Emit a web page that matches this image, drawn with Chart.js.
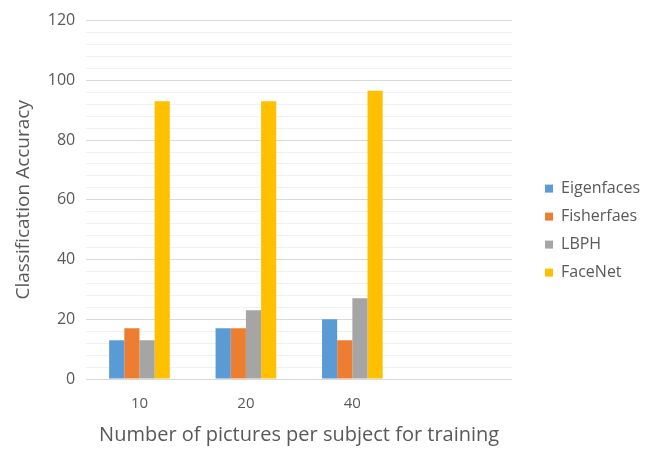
<!DOCTYPE html>
<html>
<head>
<meta charset="utf-8">
<script src="https://cdn.jsdelivr.net/npm/chart.js@4.4.0/dist/chart.umd.min.js"></script>
<style>
html,body{margin:0;padding:0;background:#fff;}
#wrap{width:647px;height:450px;}
</style>
</head>
<body>
<div id="wrap"><canvas id="c" width="647" height="450"></canvas></div>
<script>
const categories = ['10', '20', '40', ''];
const eigenfaces = [13, 17, 20, null];
const fisherfaes = [17, 17, 13, null];
const lbph = [13, 23, 27, null];
const facenet = [93, 93, 96.5, null];
const yTickLabels = [0, 20, 40, 60, 80, 100, 120];

const FONT = '"Open Sans", Lato, sans-serif';
const TXT = '#595959';

// shift the legend to the right inside the reserved right margin
const legendShift = {
  id: 'legendShift',
  afterLayout(chart) {
    const lg = chart.legend;
    if (lg) { lg.left += 21; lg.right += 21; }
  }
};

new Chart(document.getElementById('c'), {
  type: 'bar',
  data: {
    labels: categories,
    datasets: [
      { label: 'Eigenfaces', data: eigenfaces, backgroundColor: '#5B9BD5' },
      { label: 'Fisherfaes', data: fisherfaes, backgroundColor: '#ED7D31' },
      { label: 'LBPH', data: lbph, backgroundColor: '#A5A5A5' },
      { label: 'FaceNet', data: facenet, backgroundColor: '#FFC000' }
    ]
  },
  plugins: [legendShift],
  options: {
    responsive: false,
    animation: false,
    categoryPercentage: 0.57,
    barPercentage: 1.0,
    layout: { padding: { left: 8, top: 0, right: 18, bottom: 0 } },
    plugins: {
      tooltip: { enabled: false },
      legend: {
        position: 'right',
        title: { display: true, text: ' ', font: { size: 1 }, padding: 5 },
        labels: {
          boxWidth: 8, boxHeight: 8, padding: 12,
          color: TXT, font: { family: FONT, size: 16 }
        }
      }
    },
    scales: {
      x: {
        grid: { display: false },
        border: { display: false },
        ticks: { color: TXT, font: { family: FONT, size: 15 }, padding: 8 },
        title: { display: true, text: 'Number of pictures per subject for training', color: TXT, font: { family: FONT, size: 20 }, padding: { top: 2, bottom: 3 } }
      },
      y: {
        min: 0, max: 120,
        border: { display: false },
        grid: {
          drawTicks: false,
          color: (ctx) => (ctx.tick && yTickLabels.includes(ctx.tick.value)) ? '#d9d9d9' : '#f1f1f1'
        },
        ticks: {
          stepSize: 4,
          autoSkip: false,
          padding: 11,
          color: TXT, font: { family: FONT, size: 16 },
          callback: (v) => yTickLabels.includes(v) ? String(v) : ''
        },
        title: { display: true, text: 'Classification Accuracy', color: TXT, font: { family: FONT, size: 19 }, padding: { bottom: 2 } }
      }
    }
  }
});
</script>
</body>
</html>
